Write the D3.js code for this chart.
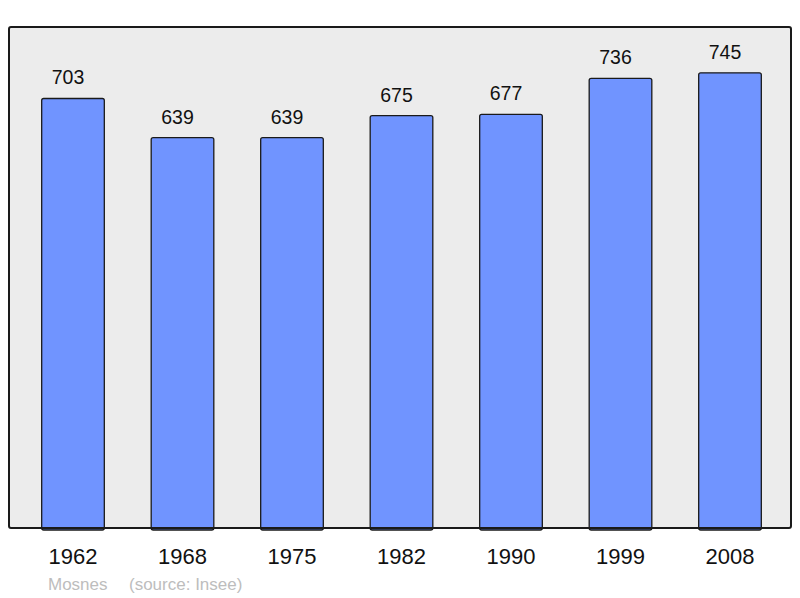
<!DOCTYPE html>
<html>
<head>
<meta charset="utf-8">
<script src="https://cdn.jsdelivr.net/npm/d3@7"></script>
<style>
  body { margin: 0; background: #fff; }
  svg { display: block; font-family: "Liberation Sans", Arial, sans-serif; }
</style>
</head>
<body>
<div id="chart"></div>
<script>
const years = ["1962", "1968", "1975", "1982", "1990", "1999", "2008"];
const population = [703, 639, 639, 675, 677, 736, 745];
const placeName = "Mosnes";
const sourceText = "(source: Insee)";

const width = 800, height = 598;

const svg = d3.select("#chart")
  .append("svg")
  .attr("width", width)
  .attr("height", height);

// plot frame
const frame = { left: 9, top: 27, right: 791, bottom: 528 };

svg.append("rect")
  .attr("x", frame.left)
  .attr("y", frame.top)
  .attr("width", frame.right - frame.left)
  .attr("height", frame.bottom - frame.top)
  .attr("rx", 2)
  .attr("fill", "#ececec");

const x = d3.scaleBand()
  .domain(years)
  .range([18.25, 784.75])
  .paddingInner(0.428)
  .paddingOuter(0.214);

const y = d3.scaleLinear()
  .domain([0, 820])
  .range([frame.bottom, frame.top]);

const data = years.map((yr, i) => ({ year: yr, value: population[i] }));

// bars
svg.append("g")
  .selectAll("rect")
  .data(data)
  .join("rect")
  .attr("x", d => x(d.year))
  .attr("y", d => y(d.value))
  .attr("width", x.bandwidth())
  .attr("height", d => frame.bottom - y(d.value) + 2)
  .attr("rx", 2)
  .attr("fill", "#7094ff")
  .attr("stroke", "#1a1a1a")
  .attr("stroke-width", 1.3);

// frame border on top so bar bottoms sit under it
svg.append("rect")
  .attr("x", frame.left)
  .attr("y", frame.top)
  .attr("width", frame.right - frame.left)
  .attr("height", frame.bottom - frame.top)
  .attr("rx", 2)
  .attr("fill", "none")
  .attr("stroke", "#1a1a1a")
  .attr("stroke-width", 2);

// value labels (sit a little left of the bar centre, as in the original)
svg.append("g")
  .selectAll("text")
  .data(data)
  .join("text")
  .attr("x", d => x(d.year) + x.bandwidth() / 2 - 5)
  .attr("y", d => y(d.value) - 14)
  .attr("text-anchor", "middle")
  .attr("font-size", 19.5)
  .attr("fill", "#111")
  .text(d => d.value);

// year labels
svg.append("g")
  .selectAll("text")
  .data(years)
  .join("text")
  .attr("x", d => x(d) + x.bandwidth() / 2)
  .attr("y", 564)
  .attr("text-anchor", "middle")
  .attr("font-size", 22)
  .attr("fill", "#111")
  .text(d => d);

// footer
svg.append("text")
  .attr("x", 48)
  .attr("y", 590)
  .attr("font-size", 17)
  .attr("fill", "#bdbdbd")
  .text(placeName);

svg.append("text")
  .attr("x", 129)
  .attr("y", 590)
  .attr("font-size", 17)
  .attr("fill", "#bdbdbd")
  .text(sourceText);
</script>
</body>
</html>
